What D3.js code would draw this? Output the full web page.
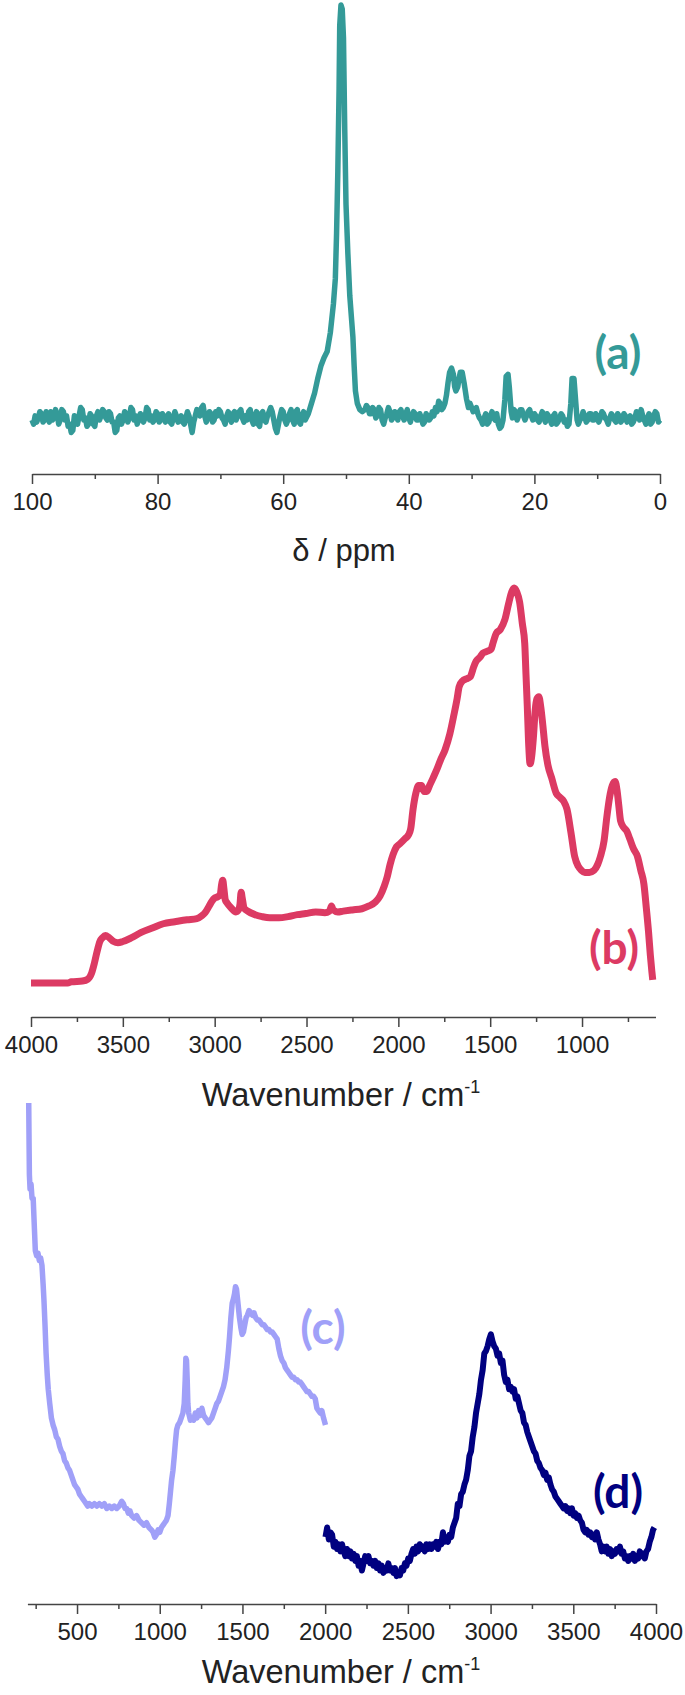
<!DOCTYPE html>
<html>
<head>
<meta charset="utf-8">
<script src="https://cdn.jsdelivr.net/npm/d3@7"></script>
<style>
  html, body { margin: 0; padding: 0; background: #ffffff; }
  svg { display: block; }
</style>
</head>
<body>
<div id="chart"></div>
<script>
// ---------------- DATA ----------------
// (a) 13C NMR spectrum: [chemical shift (ppm), intensity]
const nmrSpectrum = [
  [100,0],[99.75,-1],[99.5,1],[99.25,-0.5],[99,0.5],[98.75,2],[98.5,1.5],[98.25,-0.5],[98,0],[97.75,2],[97.5,1],[97.25,-0.5],[97,2],[96.75,0],[96.5,0.5],[96.25,2.5],[96,1.5],[95.75,-1],[95.5,0],[95.25,2.5],[95,2],[94.75,0],[94.5,1],[94.25,-1.5],[94,-1],[93.75,-3],[93.5,-2.5],[93.25,1],[93,0],[92.75,-1],[92.5,1],[92.25,3],[92,2.5],[91.75,0],[91.5,0.5],[91.25,-1.5],[91,-1],[90.75,1.5],[90.5,1],[90.25,-1],[90,-1.5],[89.75,1],[89.5,2],[89.25,0],[89,1],[88.75,2.5],[88.5,2],[88.25,0.5],[88,0],[87.75,2],[87.5,1.5],[87.25,-0.5],[87,-0.5],[86.75,-3],[86.5,-2.5],[86.25,0.5],[86,1],[85.75,-1],[85.5,0],[85.25,2],[85,1.5],[84.75,-0.5],[84.5,0.5],[84.25,3],[84,2.5],[83.75,0],[83.5,1],[83.25,-1],[83,0],[82.75,1.5],[82.5,1],[82.25,-0.5],[82,0.5],[81.75,3],[81.5,2.5],[81.25,0],[81,1],[80.75,-0.5],[80.5,0],[80.25,2],[80,1.5],[79.75,-0.5],[79.5,0],[79.25,1.5],[79,1],[78.75,-0.5],[78.5,0.5],[78.25,1.5],[78,-0.5],[77.75,-1],[77.5,0.5],[77.25,2],[77,1],[76.75,-0.5],[76.5,0],[76.25,1],[76,-0.5],[75.75,-1],[75.5,0.5],[75.25,2],[75,1],[74.75,-1],[74.5,-3],[74.25,-0.5],[74,1],[73.75,2.5],[73.5,2],[73.25,1],[73,3],[72.75,3.5],[72.5,1],[72.25,-0.5],[72,0.5],[71.75,2],[71.5,1.5],[71.25,-0.5],[71,0],[70.75,2],[70.5,1],[70.25,2.5],[70,2],[69.75,0.5],[69.5,0],[69.25,-1],[69,1],[68.75,2],[68.5,0.5],[68.25,-0.5],[68,1.5],[67.75,2],[67.5,0],[67.25,1],[67,2],[66.75,2.5],[66.5,0.5],[66.25,-0.5],[66,1],[65.75,0],[65.5,2],[65.25,2.5],[65,0],[64.75,-1],[64.5,1],[64.25,2],[64,-1],[63.75,-1.5],[63.5,1.5],[63.25,2],[63,0],[62.75,-0.5],[62.5,1],[62.25,2],[62,3],[61.75,2],[61.5,0],[61.25,-2],[61,-3],[60.75,-1],[60.5,1],[60.25,2.5],[60,2],[59.75,0],[59.5,-1],[59.25,0],[59,1.5],[58.75,2.5],[58.5,0],[58.25,-1],[58,2],[57.75,2.5],[57.5,-0.5],[57.25,-1],[57,1],[56.75,2],[56.5,0],
  [56,1.5],[55.5,4],[55,6.5],[54.5,10],[54,13],[53.5,15],[53,16.5],[52.5,21],[52,28],[51.7,34],[51.5,45],[51.3,60],[51.1,80],[51,95],[50.8,100],[50.6,99],[50.4,92],[50.2,70],[50,52],[49.7,40],[49.4,30],[49.1,24],[48.9,20],[48.7,13],[48.5,7],[48.2,4],[47.8,2.5],[47.4,2],
  [47,2.5],[46.75,3.5],[46.5,3],[46.25,1.5],[46,1.5],[45.75,3],[45.5,2.5],[45.25,0.5],[45,1],[44.75,3],[44.5,2.5],[44.25,0],[44,-1],[43.75,0.5],[43.5,1.5],[43.25,3],[43,2],[42.75,0],[42.5,0.5],[42.25,2],[42,1.5],[41.75,0],[41.5,2],[41.25,2.5],[41,1],[40.75,0],[40.5,1.5],[40.25,2.5],[40,0.5],[39.75,-0.5],[39.5,1],[39.25,2],[39,1.5],[38.75,0],[38.5,0],[38.25,1.5],[38,0.5],[37.75,-1],[37.5,-0.5],[37.25,1.5],[37,1],[36.75,0],[36.5,0.5],[36.25,2],[36,1],[35.75,3],[35.5,2],[35.25,4.5],[35,4],[34.75,2.5],[34.5,3],[34.25,4],[34,6],[33.75,9],[33.5,11.5],[33.2,12.5],[32.9,11],[32.7,8],[32.5,7],[32.2,8],[32,10],[31.8,11.5],[31.5,11.5],[31.2,9],[31,7],[30.8,5],[30.5,3],[30.25,4],[30,3],[29.75,2],[29.5,2.5],[29.25,3],[29,1.5],[28.75,0.5],[28.5,0],[28.25,-1],[28,0.5],[27.75,1.5],[27.5,-1],[27.25,-0.5],[27,1],[26.75,2],[26.5,0.5],[26.25,0],[26,1.5],[25.75,-1],[25.5,-2],[25.25,-1.5],[25,0],[24.7,5],[24.5,10.5],[24.2,11],[24,8],[23.7,2],[23.5,0.5],[23.25,2.5],[23,2],[22.75,0],[22.5,1],[22.25,2.5],[22,2.5],[21.75,1],[21.5,0],[21.25,1],[21,2],[20.75,2.5],[20.5,1],[20.25,0],[20,1.5],[19.75,1],[19.5,0],[19.25,-0.5],[19,1],[18.75,2],[18.5,0.5],[18.25,-0.5],[18,1.5],[17.75,1],[17.5,0],[17.25,-1],[17,1],[16.75,1.5],[16.5,-1],[16.25,-0.5],[16,0.5],[15.75,1.5],[15.5,1],[15.25,-0.5],[15,0],[14.75,-1.5],[14.5,-1],[14.2,4],[14,10],[13.7,10],[13.4,4],[13.2,0],[13,-1],[12.75,0],[12.5,0.5],[12.25,2],[12,1],[11.75,-0.5],[11.5,0],[11.25,1.5],[11,1.5],[10.75,0],[10.5,0],[10.25,1.5],[10,1],[9.75,-0.5],[9.5,0.5],[9.25,2],[9,1.5],[8.75,0.5],[8.5,0],[8.25,-1],[8,0.5],[7.75,1.5],[7.5,1],[7.25,0],[7,-0.5],[6.75,1.5],[6.5,1],[6.25,-0.5],[6,0],[5.75,1.5],[5.5,1],[5.25,-0.5],[5,0.5],[4.75,1],[4.5,-1],[4.25,-0.5],[4,0.5],[3.75,2],[3.5,1],[3.25,0],[3,2.5],[2.75,1],[2.5,0],[2.25,-1],[2,0.5],[1.75,1.5],[1.5,-1],[1.25,-0.5],[1,1],[0.75,2],[0.5,1.5],[0.25,-0.5],[0,0]
];

// (b) IR spectrum: [wavenumber (cm-1), intensity]
const irSpectrum = [
  [4000,0],[3900,0],[3800,0],[3780,0.3],[3720,0.5],[3690,1],[3670,2.5],[3655,5],[3640,8],[3625,10.5],[3610,11.5],[3595,12],[3575,11.5],[3550,10.5],[3527,10.2],[3500,10.5],[3455,11.4],[3400,12.8],[3336,14],[3280,15],[3217,15.5],[3150,16],[3097,16.3],[3070,17],[3052,17.8],[3030,19.5],[3015,20.7],[3000,21.5],[2985,21.8],[2970,22.3],[2962,25],[2956,26],[2950,24],[2942,21],[2933,20.3],[2910,19],[2884,18],[2870,18.5],[2862,20],[2856,23],[2850,21.5],[2840,19],[2820,18.2],[2780,17.3],[2742,16.8],[2700,16.5],[2650,16.5],[2600,16.8],[2550,17.3],[2504,17.6],[2450,18],[2400,17.8],[2375,18.2],[2364,19.5],[2355,18.5],[2330,18],[2300,18.2],[2250,18.5],[2198,18.8],[2160,19.5],[2125,20.5],[2100,22],[2077,24.5],[2060,27],[2045,30],[2029,32.5],[2010,34.5],[1993,35.2],[1965,36.5],[1945,37.5],[1933,39],[1920,44],[1905,48],[1890,50],[1874,50],[1860,48.5],[1845,48.5],[1830,50],[1810,52],[1791,54],[1770,56.5],[1746,59],[1720,63],[1697,68],[1680,72],[1669,75],[1650,76.5],[1630,77],[1609,77.5],[1590,80],[1576,81.5],[1555,82.5],[1540,83.5],[1515,84],[1495,84.5],[1485,86],[1467,88.5],[1445,89.5],[1420,92],[1400,96],[1383,99],[1370,100],[1355,99],[1340,96.5],[1325,91],[1312,86],[1305,78],[1298,70],[1290,60],[1283,55.5],[1275,57],[1265,62],[1255,69],[1245,72],[1235,72.5],[1225,70],[1215,66],[1202,60],[1185,55],[1166,52],[1140,48],[1120,47],[1100,46],[1082,44],[1060,38],[1040,32],[1020,29.5],[1003,28.5],[985,28],[960,28],[935,28.5],[915,30],[900,32],[880,36],[865,42],[850,47],[835,50],[820,51],[810,49],[800,45],[790,41],[775,39.5],[757,38.5],[740,36.5],[720,34],[698,32],[680,28.5],[663,25],[650,19],[638,13],[628,7],[620,3],[615,0.8]
];

// (c) Raman spectrum, low range: [wavenumber (cm-1), intensity]
const ramanLow = [
  [208,100],[210,92],[212,85],[216,82],[222,83],[228,80],[235,80],[242,74],[248,69],[256,68],[264,68.5],[272,67],[280,67.5],[288,66],[295,62],[300,58.7],[307,53],[313,47.5],[320,43],[326,40],[335,37],[345,34],[355,32.5],[365,31.5],[375,30],[385,29.5],[395,28],[405,27],[415,26.5],[425,25],[435,24.5],[445,23.5],[455,23],[465,22],[475,21],[485,20],[495,19.5],[505,19],[515,18],[525,17.5],[535,17],[545,16.5],[555,16],[565,15.5],[575,16],[590,15.5],[605,16],[620,15.5],[635,16],[650,15.5],[665,16],[680,15],[695,15.5],[710,15],[725,15.5],[740,15],[755,15.5],[770,16.5],[780,16],[790,15],[800,15],[810,14],[820,14.5],[830,13.5],[845,13],[860,13.5],[875,12.5],[890,12],[905,11.5],[920,12],[935,11],[950,10.5],[960,10],[970,9],[980,9.5],[990,10.5],[1000,10],[1010,11],[1020,11.5],[1030,12],[1040,12.5],[1050,13.5],[1058,16],[1065,18.5],[1072,21],[1080,23],[1088,26],[1095,29],[1102,31.5],[1110,32.5],[1120,33],[1130,34],[1140,35],[1148,37],[1154,42],[1158,46.5],[1162,46],[1166,42],[1170,37],[1175,35],[1185,33.5],[1195,34],[1205,33.5],[1215,35],[1225,34],[1235,35.5],[1245,34.5],[1255,36],[1265,34.5],[1275,34],[1285,33.5],[1295,33],[1305,33.5],[1315,34],[1325,35],[1335,36],[1345,37],[1355,37.5],[1365,38.5],[1375,39.5],[1385,40.5],[1395,42],[1405,44.5],[1415,48],[1422,51],[1430,55],[1438,58],[1446,59],[1452,60],[1458,61.5],[1464,61],[1470,59],[1476,57],[1482,55],[1490,53],[1498,51.5],[1506,52],[1514,53.5],[1522,55],[1530,55.5],[1540,56.5],[1550,56],[1560,55.5],[1570,56],[1580,55],[1590,54.5],[1600,54.5],[1610,54],[1620,53.5],[1630,53.5],[1640,53],[1650,52.5],[1660,52.5],[1670,52],[1680,52],[1690,51.5],[1700,51],[1710,50.5],[1720,48.5],[1730,47],[1740,46],[1750,45.5],[1760,44.5],[1770,44],[1780,43.5],[1790,43],[1800,42.5],[1810,42.5],[1820,42],[1830,42],[1840,41.5],[1850,41.5],[1860,41],[1870,40.5],[1880,40],[1890,39.5],[1900,39.5],[1910,39],[1920,38.5],[1930,38.5],[1940,38],[1950,36],[1960,35.5],[1970,35],[1980,35.5],[1990,34],[2002,32.5]
];

// (d) Raman spectrum, high range: [wavenumber (cm-1), intensity]
const ramanHigh = [
  [2002,9],[2012,11],[2022,8.5],[2032,10],[2042,9.5],[2052,7],[2062,8],[2072,6.5],[2082,7.5],[2092,6],[2102,7.5],[2112,6],[2122,5],[2132,6.5],[2142,5],[2152,6],[2162,4.5],[2172,5.5],[2182,4],[2192,5],[2202,3],[2212,4],[2222,2],[2232,3.5],[2242,5],[2252,4],[2262,5],[2272,3.5],[2282,4],[2292,3],[2302,4],[2312,2.5],[2322,3.5],[2332,2],[2342,3],[2352,1.5],[2362,2.5],[2372,2],[2382,3.5],[2392,2],[2402,2.5],[2412,1.5],[2422,2.5],[2432,0.8],[2442,1.5],[2452,1],[2462,2.5],[2472,2],[2482,3.5],[2492,3],[2502,4.5],[2512,4],[2522,5.5],[2532,6.5],[2542,5.5],[2552,7],[2562,6],[2572,7.5],[2582,6.5],[2592,7],[2602,6],[2612,7.5],[2622,6.5],[2632,7.5],[2642,6.5],[2652,7.5],[2662,7],[2672,8],[2682,6.5],[2692,8],[2702,7.5],[2712,10],[2722,8],[2732,9],[2742,8],[2752,9.5],[2762,9],[2772,11],[2782,12],[2792,13],[2802,16],[2812,15.5],[2822,18],[2832,18.5],[2842,20],[2852,21],[2862,23],[2872,26],[2882,27],[2892,30],[2902,32],[2912,35],[2922,37],[2932,39],[2942,42],[2952,44],[2962,47.5],[2972,48],[2982,49],[2992,50.5],[3002,51.5],[3012,50],[3022,49],[3032,48.5],[3042,47],[3052,47.5],[3062,45.5],[3072,46],[3082,43],[3092,41.5],[3102,42],[3112,40],[3122,40.5],[3132,39.5],[3142,40],[3152,38],[3162,38.5],[3172,37],[3182,35.5],[3192,35],[3202,33],[3212,32.5],[3222,31],[3232,30],[3242,29],[3252,28],[3262,27],[3272,26.5],[3282,25],[3292,24.5],[3302,23.5],[3312,23],[3322,22],[3332,22.5],[3342,21],[3352,21.5],[3362,20],[3372,19],[3382,18.5],[3392,17.5],[3402,17],[3412,16.5],[3422,16],[3432,15.5],[3442,15],[3452,15.5],[3462,14.5],[3472,15],[3482,14],[3492,15],[3502,13.5],[3512,14],[3522,13],[3532,13.5],[3542,12.5],[3552,12],[3562,10.5],[3572,10],[3582,10.5],[3592,9.5],[3602,10],[3612,9],[3622,9.5],[3632,8.5],[3642,10],[3652,8.5],[3662,7.5],[3672,6],[3682,7],[3692,6],[3702,7],[3712,5.5],[3722,6.5],[3732,5],[3742,6],[3752,5.5],[3762,6.5],[3772,6],[3782,7],[3792,5.5],[3802,6],[3812,4.5],[3822,5],[3832,4],[3842,5],[3852,4.5],[3862,5.5],[3872,4],[3882,5],[3892,4.5],[3902,6],[3912,5],[3922,5.5],[3932,4.5],[3942,6],[3952,6.5],[3962,8],[3972,9],[3982,10.5],[3990,11]
];

// Tick values and labels
const nmrMajorTicks = [100, 80, 60, 40, 20, 0];
const nmrMinorTicks = [90, 70, 50, 30, 10];
const irMajorTicks = [4000, 3500, 3000, 2500, 2000, 1500, 1000];
const irMinorTicks = [3750, 3250, 2750, 2250, 1750, 1250, 750];
const ramanMajorTicks = [500, 1000, 1500, 2000, 2500, 3000, 3500, 4000];
const ramanMinorTicks = [250, 750, 1250, 1750, 2250, 2750, 3250, 3750];

const panelLabels = ["(a)", "(b)", "(c)", "(d)"];
const axisTitles = ["δ / ppm", "Wavenumber / cm", "Wavenumber / cm"];

// ---------------- DRAWING ----------------
const W = 685, H = 1695;
const svg = d3.select("#chart").append("svg")
  .attr("width", W).attr("height", H)
  .attr("viewBox", `0 0 ${W} ${H}`);
svg.append("rect").attr("width", W).attr("height", H).attr("fill", "#ffffff");

const tickFont = "'Liberation Sans', Arial, sans-serif";
const labelFont = "Lato, 'Open Sans', sans-serif";

function drawAxis(scale, y, major, minor) {
  const gMinor = svg.append("g").attr("transform", `translate(0,${y})`)
    .call(d3.axisBottom(scale).tickValues(minor).tickSize(5).tickSizeOuter(0).tickFormat(""));
  gMinor.select(".domain").remove();
  gMinor.selectAll("line").attr("stroke", "#444").attr("stroke-width", 1.5);
  const g = svg.append("g").attr("transform", `translate(0,${y})`)
    .call(d3.axisBottom(scale).tickValues(major).tickSize(10).tickSizeOuter(0).tickPadding(9).tickFormat(d3.format("d")));
  g.select(".domain").attr("stroke", "#444").attr("stroke-width", 1.5);
  g.selectAll("line").attr("stroke", "#444").attr("stroke-width", 1.5);
  g.selectAll("text").attr("font-family", tickFont).attr("font-size", 24).attr("fill", "#222");
  return g;
}

function drawTitle(text, x, y, sup) {
  const t = svg.append("text").attr("x", x).attr("y", y)
    .attr("text-anchor", "middle")
    .attr("font-family", tickFont).attr("font-size", sup ? 32.5 : 31).attr("fill", "#222");
  t.append("tspan").text(text);
  if (sup) {
    t.append("tspan").attr("font-size", 18).attr("dy", -13).text(sup);
  }
}

function drawLabel(text, x, y, color) {
  svg.append("text").attr("x", x).attr("y", y)
    .attr("text-anchor", "middle")
    .attr("font-family", labelFont).attr("font-weight", 700)
    .attr("font-size", 46).attr("fill", color).text(text);
}

// Panel (a)
const xA = d3.scaleLinear().domain([100, 0]).range([32, 660]);
const yA = d3.scaleLinear().domain([0, 100]).range([420, 5]);
const colorA = "#349a98";
svg.append("path").datum(nmrSpectrum)
  .attr("fill", "none").attr("stroke", colorA).attr("stroke-width", 5.5)
  .attr("stroke-linejoin", "round")
  .attr("d", d3.line().x(d => xA(d[0])).y(d => yA(d[1])));
drawAxis(xA, 474, nmrMajorTicks, nmrMinorTicks);
drawTitle(axisTitles[0], 344, 561);
drawLabel(panelLabels[0], 618, 369, colorA);

// Panel (b)
const xB = d3.scaleLinear().domain([4000, 600]).range([31, 655.5]);
const yB = d3.scaleLinear().domain([0, 100]).range([983, 588]);
const colorB = "#dc3a63";
svg.append("path").datum(irSpectrum)
  .attr("fill", "none").attr("stroke", colorB).attr("stroke-width", 7)
  .attr("stroke-linejoin", "round")
  .attr("d", d3.line().curve(d3.curveMonotoneX).x(d => xB(d[0])).y(d => yB(d[1])));
drawAxis(xB, 1017, irMajorTicks, irMinorTicks);
drawTitle(axisTitles[1], 341, 1106, "-1");
drawLabel(panelLabels[1], 614, 964, colorB);

// Panels (c) and (d)
const xC = d3.scaleLinear().domain([200, 4000]).range([27.4, 656]);
const yC = d3.scaleLinear().domain([0, 100]).range([1580, 1103]);
const colorC = "#a0a0f8";
const colorD = "#000080";
svg.append("path").datum(ramanLow)
  .attr("fill", "none").attr("stroke", colorC).attr("stroke-width", 5.5)
  .attr("stroke-linejoin", "round")
  .attr("d", d3.line().x(d => xC(d[0])).y(d => yC(d[1])));
svg.append("path").datum(ramanHigh)
  .attr("fill", "none").attr("stroke", colorD).attr("stroke-width", 6)
  .attr("stroke-linejoin", "round")
  .attr("d", d3.line().x(d => xC(d[0])).y(d => yC(d[1])));
drawAxis(xC, 1604, ramanMajorTicks, ramanMinorTicks);
drawTitle(axisTitles[2], 341, 1683, "-1");
drawLabel(panelLabels[2], 323, 1344, colorC);
drawLabel(panelLabels[3], 618, 1508, colorD);
</script>
</body>
</html>
